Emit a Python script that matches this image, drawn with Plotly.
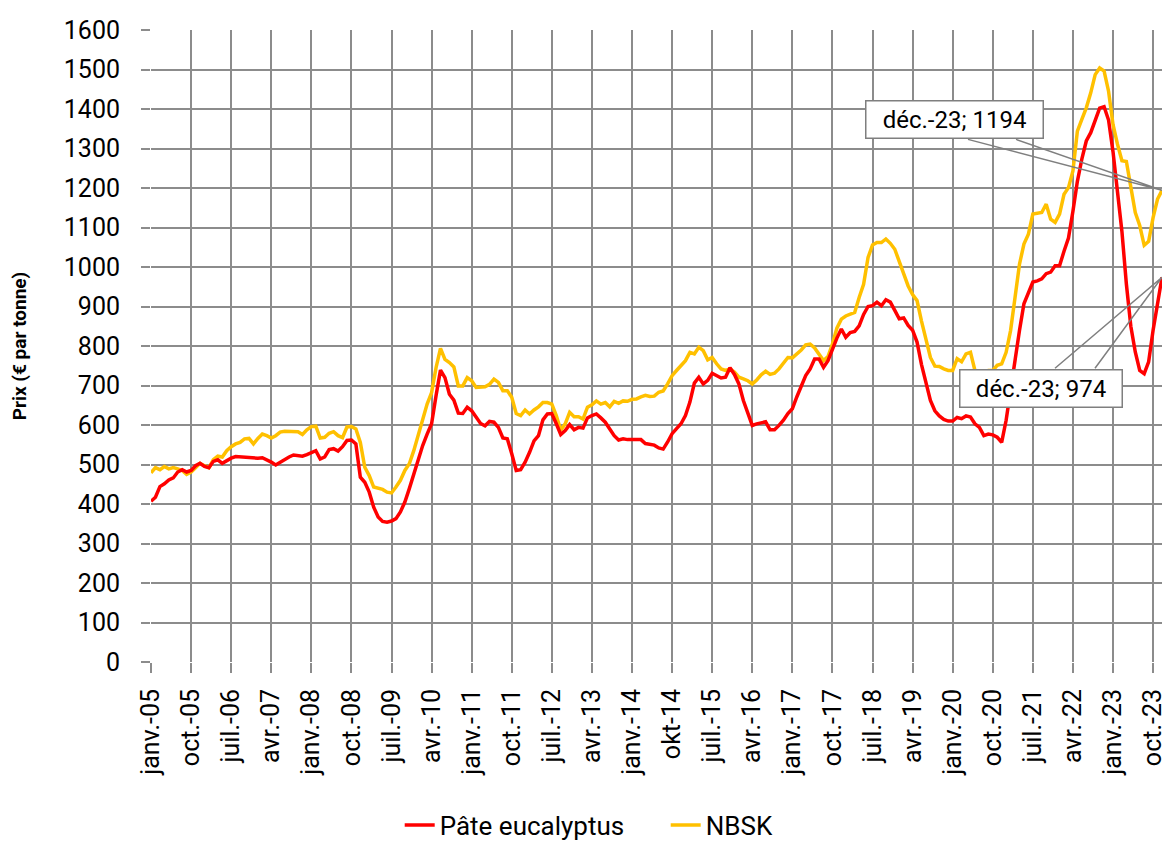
import numpy as np
import pandas as pd
import plotly.graph_objects as go

# Monthly categories Jan 2005 .. Dec 2023
months = [d.strftime("%Y-%m") for d in pd.date_range("2005-01-01", "2023-12-01", freq="MS")]

eucalyptus = [
    407, 417, 444, 451, 461, 466, 481, 487, 481, 485, 497, 503,
    495, 492, 508, 512, 503, 510, 516, 520, 519, 519, 517, 516,
    516, 517, 512, 506, 499, 506, 514, 519, 524, 523, 521, 525,
    529, 535, 514, 519, 538, 540, 534, 545, 561, 562, 552, 468,
    455, 430, 392, 367, 356, 354, 357, 363, 380, 405, 439, 476,
    512, 548, 577, 603, 674, 739, 720, 678, 663, 630, 629, 645,
    636, 619, 604, 598, 609, 607, 594, 567, 565, 527, 485, 487,
    506, 531, 560, 573, 613, 628, 629, 603, 576, 586, 601, 588,
    594, 592, 618, 624, 628, 618, 607, 590, 573, 562, 565, 563,
    563, 563, 563, 553, 550, 549, 542, 539, 557, 578, 591, 603,
    624, 658, 706, 721, 704, 713, 731, 725, 719, 721, 745, 728,
    704, 662, 629, 599, 603, 605, 608, 588, 588, 599, 612, 629,
    641, 671, 700, 725, 742, 767, 767, 746, 763, 792, 820, 843,
    822, 834, 837, 851, 880, 900, 902, 911, 902, 917, 911, 890,
    869, 871, 852, 840, 810, 753, 708, 662, 636, 623, 614, 610,
    610, 619, 616, 623, 620, 603, 594, 573, 577, 575, 569, 556,
    612, 688, 772, 839, 907, 933, 962, 965, 970, 983, 987, 1003,
    1003, 1040, 1073, 1141, 1217, 1273, 1319, 1340, 1369, 1402, 1406, 1372,
    1292, 1191, 1090, 957, 850, 785, 738, 730, 760, 840, 910, 974,
]

nbsk = [
    479, 492, 487, 495, 489, 492, 489, 485, 475, 481, 492, 503,
    497, 492, 512, 521, 519, 535, 545, 552, 556, 565, 566, 552,
    566, 577, 573, 567, 573, 582, 584, 584, 582, 583, 576, 588,
    596, 597, 567, 569, 579, 583, 573, 568, 595, 596, 590, 556,
    493, 472, 443, 439, 437, 430, 428, 443, 460, 485, 502, 535,
    577, 619, 653, 682, 745, 794, 766, 758, 747, 699, 699, 720,
    712, 695, 695, 697, 703, 716, 708, 687, 687, 670, 629, 624,
    638, 628, 638, 646, 657, 657, 653, 624, 587, 603, 632, 621,
    621, 615, 645, 651, 661, 653, 657, 646, 660, 655, 661, 660,
    665, 666, 671, 675, 672, 673, 683, 686, 704, 725, 738, 750,
    763, 784, 780, 797, 788, 765, 771, 755, 742, 738, 742, 734,
    721, 717, 712, 704, 714, 727, 736, 728, 731, 742, 756, 771,
    770, 780, 790, 803, 805, 795, 778, 763, 773, 805, 845, 868,
    876, 881, 885, 923, 956, 1024, 1056, 1062, 1062, 1071, 1060, 1045,
    1015, 981, 952, 930, 915, 863, 813, 771, 749, 748, 742, 738,
    738, 768, 760, 780, 784, 738, 735, 735, 738, 738, 751, 755,
    784, 839, 923, 1007, 1058, 1083, 1134, 1136, 1138, 1159, 1121, 1113,
    1134, 1184, 1201, 1243, 1344, 1374, 1403, 1441, 1487, 1504, 1496, 1445,
    1361, 1311, 1269, 1267, 1201, 1138, 1105, 1055, 1065, 1125, 1172, 1194,
]

tick_labels = [
    "janv.-05", "oct.-05", "juil.-06", "avr.-07", "janv.-08", "oct.-08",
    "juil.-09", "avr.-10", "janv.-11", "oct.-11", "juil.-12", "avr.-13",
    "janv.-14", "okt-14", "juil.-15", "avr.-16", "janv.-17", "oct.-17",
    "juil.-18", "avr.-19", "janv.-20", "oct.-20", "juil.-21", "avr.-22",
    "janv.-23", "oct.-23",
]
last_label = "déc.-23"

x = np.arange(len(months))
tick_step = 9
tickvals = x[::tick_step][:len(tick_labels)]

FONT = "Roboto, 'Noto Sans', sans-serif"
GRID = "#8c8c8c"

fig = go.Figure()
fig.add_trace(go.Scatter(x=x, y=nbsk, mode="lines", name="NBSK",
                         line=dict(color="#FFC000", width=3.5), legendrank=2))
fig.add_trace(go.Scatter(x=x, y=eucalyptus, mode="lines", name="Pâte eucalyptus",
                         line=dict(color="#FF0000", width=3.5), legendrank=1))

fig.update_layout(
    width=1167, height=841,
    margin=dict(l=151, r=5, t=30, b=179, autoexpand=False),
    paper_bgcolor="white", plot_bgcolor="white",
    font=dict(family=FONT, size=25, color="#000000"),
    showlegend=True,
    legend=dict(orientation="h", x=0.246, xanchor="left", y=-0.258, yanchor="middle",
                font=dict(size=26), bgcolor="rgba(0,0,0,0)", traceorder="normal",
                entrywidth=221, entrywidthmode="pixels"),
    xaxis=dict(
        range=[0, len(months) - 1], tickmode="array", tickvals=tickvals, ticktext=tick_labels,
        tickangle=-90, showgrid=True, gridcolor=GRID, gridwidth=1.5,
        ticks="outside", ticklen=10, tickwidth=1.5, tickcolor=GRID,
        showline=False, zeroline=False, tickfont=dict(size=25), ticklabelstandoff=6,
        ticklabeloverflow="allow",
    ),
    yaxis=dict(
        range=[0, 1600], dtick=100, tick0=0, showgrid=True, gridcolor=GRID, gridwidth=1.5,
        ticks="outside", ticklen=9, tickwidth=1.5, tickcolor=GRID,
        showline=False, zeroline=False, tickfont=dict(size=25), ticklabelstandoff=16,
        title=dict(text="<b>Prix (€ par tonne)</b>", font=dict(size=19), standoff=32),
    ),
)

# Data-label callouts for the last point of each series
last = len(months) - 1
callouts = [
    (nbsk[last], -208, 71, 168, [(-194, 51), (-146, 51)]),
    (eucalyptus[last], -121, -111, 153, [(-107, -91), (-67, -91)]),
]
for val, dx, dy, w, base in callouts:
    fig.add_annotation(
        x=last, y=val, xref="x", yref="y", showarrow=False,
        text=f"{last_label}; {val}", xshift=dx, yshift=dy, width=w,
        font=dict(size=24, color="#000000"), bgcolor="white",
        bordercolor="#7f7f7f", borderwidth=1.5, borderpad=4,
    )
    path = f"M {base[0][0]},{base[0][1]} L 0,0 L {base[1][0]},{base[1][1]}"
    fig.add_shape(
        type="path", path=path, xref="x", yref="y",
        xsizemode="pixel", ysizemode="pixel", xanchor=last, yanchor=val,
        line=dict(color="#7f7f7f", width=1.5), fillcolor="rgba(0,0,0,0)", layer="above",
    )

fig.write_html(
    "out.html",
    config={"displayModeBar": False},
    post_script="document.body.style.margin='0';document.body.style.overflow='hidden';",
)
